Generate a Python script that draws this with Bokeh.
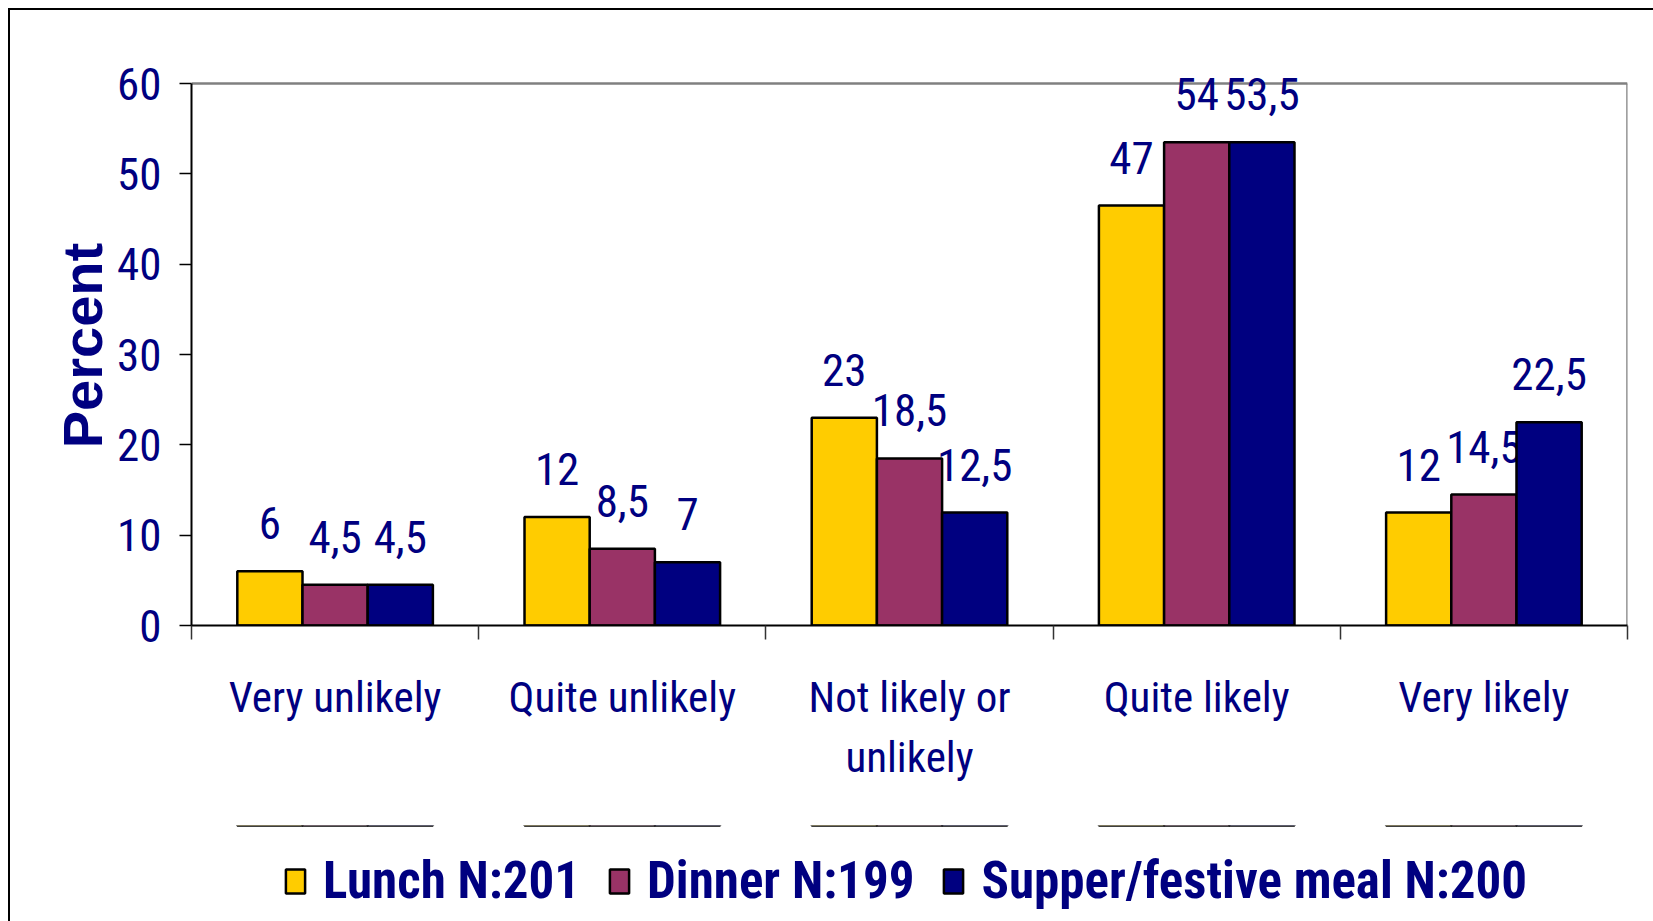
from bokeh.plotting import figure
from bokeh.layouts import column
from bokeh.models import (Range1d, LinearAxis, FixedTicker, Legend, LegendItem,
                          ColumnDataSource)
from bokeh.core.properties import value
from bokeh.transform import dodge
from bokeh.embed import file_html
from bokeh.resources import INLINE

categories = ["Very unlikely", "Quite unlikely", "Not likely or\nunlikely",
              "Quite likely", "Very likely"]
series_names = ["Lunch N:201", "Dinner N:199", "Supper/festive meal N:200"]
lunch = [6, 12, 23, 46.5, 12.5]
dinner = [4.5, 8.5, 18.5, 53.5, 14.5]
supper = [4.5, 7, 12.5, 53.5, 22.5]
lunch_labels = ["6", "12", "23", "47", "12"]
dinner_labels = ["4,5", "8,5", "18,5", "54", "14,5"]
supper_labels = ["4,5", "7", "12,5", "53,5", "22,5"]
y_ticks = [0, 10, 20, 30, 40, 50, 60]

colors = ["#FFCC00", "#993366", "#000080"]
TXT = "#000080"
NARROW = "'Roboto Condensed', 'DejaVu Sans Condensed', sans-serif"
WIDE = "'Liberation Sans', Arial, sans-serif"

n = len(categories)
centers = [i + 0.5 for i in range(n)]
boundaries = list(range(n + 1))
y_max = y_ticks[-1]

p = figure(width=1643, height=815, x_range=Range1d(0, n),
           y_range=Range1d(0, 62), output_backend="svg", toolbar_location=None,
           x_axis_location=None, min_border_left=181, min_border_right=26,
           min_border_top=55, min_border_bottom=200)
p.xgrid.visible = False
p.ygrid.visible = False
p.outline_line_color = None
p.background_fill_color = "white"

# grey plot-area border (top and right), limited to the 0..60 value area
p.segment(x0=[0, n], y0=[y_max, 0], x1=[n, n], y1=[y_max, y_max],
          line_color="#808080", line_width=2.5)

# boundary tick axis
tick_axis = LinearAxis(ticker=FixedTicker(ticks=boundaries))
tick_axis.major_label_text_font_size = "1px"
tick_axis.major_label_text_alpha = 0
tick_axis.major_label_standoff = 0
tick_axis.major_tick_out = 14
tick_axis.major_tick_in = 0
tick_axis.minor_tick_line_color = None
tick_axis.major_tick_line_color = "#333333"
tick_axis.major_tick_line_width = 1.5
tick_axis.axis_line_color = "black"
tick_axis.axis_line_width = 2
p.add_layout(tick_axis, "below")

cat_axis = LinearAxis(ticker=FixedTicker(ticks=centers),
                      major_label_overrides={c: name for c, name in zip(centers, categories)})
cat_axis.major_tick_line_color = None
cat_axis.minor_tick_line_color = None
cat_axis.axis_line_color = None
cat_axis.major_label_standoff = 26
cat_axis.major_label_text_font = NARROW
cat_axis.major_label_text_font_size = "43px"
cat_axis.major_label_text_color = TXT
cat_axis.major_label_text_line_height = 1.2
p.add_layout(cat_axis, "below")

yax = p.yaxis[0]
yax.ticker = FixedTicker(ticks=y_ticks)
yax.bounds = (0, y_max)
yax.major_label_text_font = NARROW
yax.major_label_text_font_size = "45px"
yax.major_label_text_color = TXT
yax.major_label_standoff = 18
yax.major_tick_out = 12
yax.major_tick_in = 0
yax.minor_tick_line_color = None
yax.major_tick_line_color = "black"
yax.major_tick_line_width = 1.5
yax.axis_line_color = "black"
yax.axis_line_width = 2
yax.axis_label = "Percent"
yax.axis_label_text_font = WIDE
yax.axis_label_text_font_style = "bold"
yax.axis_label_text_font_size = "56px"
yax.axis_label_text_color = TXT
yax.axis_label_standoff = 0

src = ColumnDataSource(dict(x=centers, lunch=lunch, dinner=dinner, supper=supper,
                            lunch_lab=lunch_labels, dinner_lab=dinner_labels,
                            supper_lab=supper_labels))
W = 0.227
offsets = [-W, 0.0, W]
fields = [("lunch", "lunch_lab"), ("dinner", "dinner_lab"), ("supper", "supper_lab")]
for (f, lab), off, col in zip(fields, offsets, colors):
    p.vbar(x=dodge("x", off), top=f, width=W, source=src,
           fill_color=col, line_color="black", line_width=2.5)
    p.text(x=dodge("x", off), y=f, text=lab, source=src,
           text_align="center", text_baseline="alphabetic", y_offset=-48,
           text_font=value(NARROW), text_font_size="45px", text_color=TXT)

# legend strip below the chart (its bars lie outside its view; only the legend shows)
p2 = figure(width=1643, height=96, x_range=Range1d(0, n), y_range=Range1d(-2, -1),
            output_backend="svg", toolbar_location=None, x_axis_location=None,
            y_axis_location=None, min_border=0)
p2.grid.visible = False
p2.outline_line_color = None
items = []
for (f, lab), off, col, name in zip(fields, offsets, colors, series_names):
    r = p2.vbar(x=dodge("x", off), top=f, width=W, source=src,
                fill_color=col, line_color="black", line_width=2.5)
    items.append(LegendItem(label=name, renderers=[r]))

legend = Legend(items=items, orientation="horizontal", location=(92, 11))
legend.padding = 0
legend.margin = 0
legend.border_line_color = None
legend.background_fill_alpha = 0
legend.glyph_width = 24
legend.glyph_height = 30
legend.label_standoff = 16
legend.spacing = 27
legend.label_text_font = NARROW
legend.label_text_font_style = "bold"
legend.label_text_font_size = "51px"
legend.label_text_color = TXT
p2.add_layout(legend, "center")

layout = column(p, p2, spacing=0,
                styles={"border-left": "2px solid black", "border-top": "2px solid black",
                        "margin-left": "8px", "margin-top": "8px"})

open("out.html", "w").write(file_html(layout, INLINE))
